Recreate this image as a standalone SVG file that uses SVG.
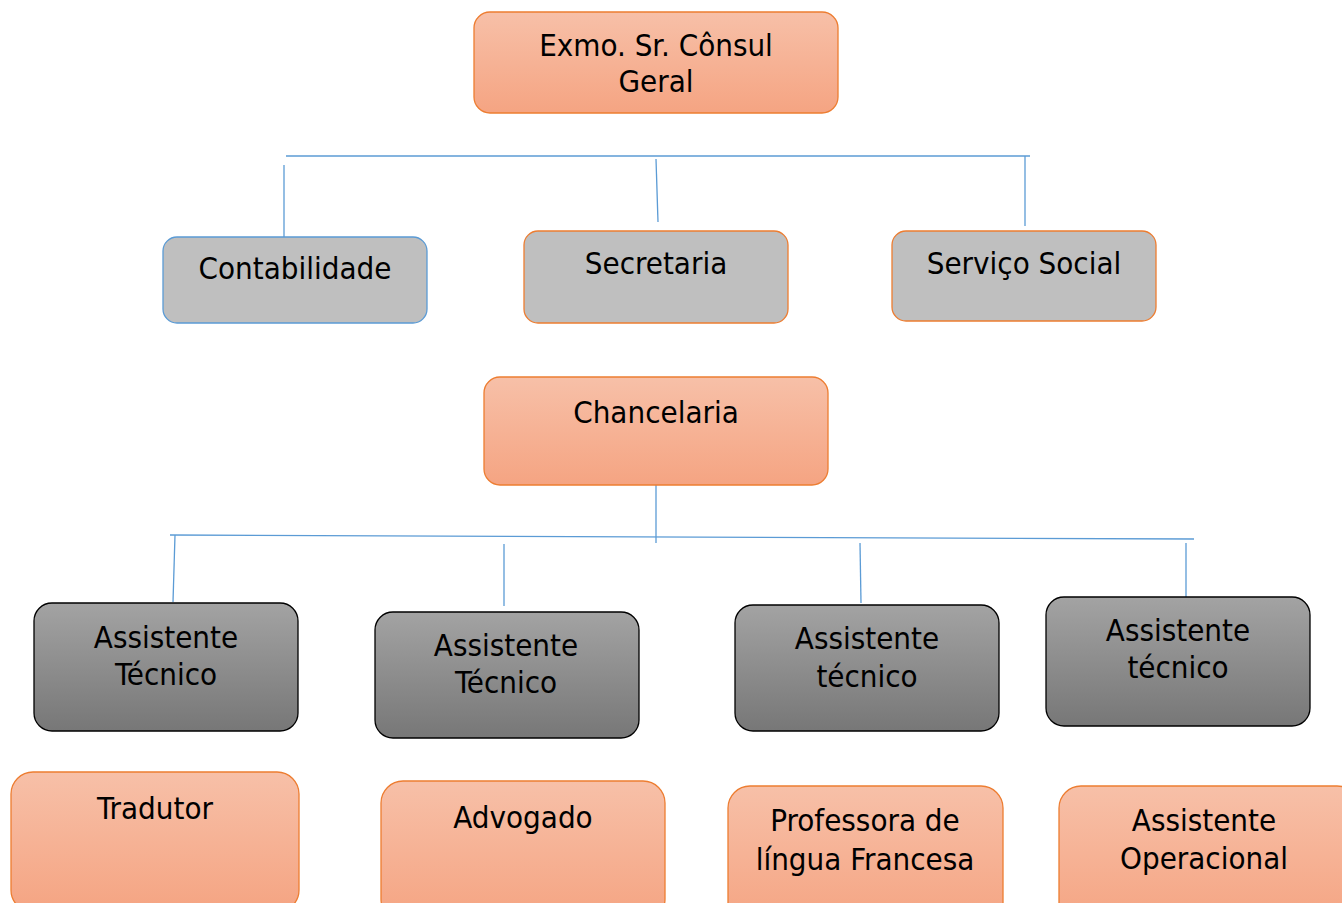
<svg xmlns="http://www.w3.org/2000/svg" width="1342" height="903" viewBox="0 0 1342 903">
<style>
text{font-family:"DejaVu Sans Condensed","DejaVu Sans",sans-serif;font-stretch:condensed;font-size:31px;fill:#000;text-anchor:middle}
.or{fill:url(#gOr);stroke:#ed7d31;stroke-width:1.3}
.gr{fill:#bfbfbf;stroke-width:1.3}
.dk{fill:url(#gDk);stroke:#000;stroke-width:1.3}
.ln{stroke:#5b9bd5;stroke-width:1.3;fill:none}
</style>
<defs>
<linearGradient id="gOr" x1="0" y1="0" x2="0" y2="1"><stop offset="0" stop-color="#f7c0a8"/><stop offset="1" stop-color="#f5a482"/></linearGradient>
<linearGradient id="gDk" x1="0" y1="0" x2="0" y2="1"><stop offset="0" stop-color="#a3a3a3"/><stop offset="1" stop-color="#777"/></linearGradient>
</defs>
<g id="connectors">
<line class="ln" x1="286" y1="156" x2="1030" y2="156"/>
<line class="ln" x1="284" y1="165" x2="284" y2="237"/>
<line class="ln" x1="656" y1="159" x2="658" y2="222"/>
<line class="ln" x1="1025" y1="156" x2="1025" y2="226"/>
<line class="ln" x1="656" y1="485" x2="656" y2="543"/>
<line class="ln" x1="170" y1="535" x2="1194" y2="539"/>
<line class="ln" x1="175" y1="535" x2="173" y2="602"/>
<line class="ln" x1="504" y1="544" x2="504" y2="606"/>
<line class="ln" x1="860" y1="543" x2="861" y2="603"/>
<line class="ln" x1="1186" y1="543" x2="1186" y2="602"/>
</g>
<g id="consul"><rect class="or" x="474" y="12" width="364" height="101" rx="16"/><text x="656" y="56">Exmo. Sr. Cônsul</text><text x="656" y="92">Geral</text></g>
<g id="contabilidade"><rect class="gr" stroke="#5b9bd5" x="163" y="237" width="264" height="86" rx="14"/><text x="295" y="279">Contabilidade</text></g>
<g id="secretaria"><rect class="gr" stroke="#ed7d31" x="524" y="231" width="264" height="92" rx="14"/><text x="656" y="274">Secretaria</text></g>
<g id="servico"><rect class="gr" stroke="#ed7d31" x="892" y="231" width="264" height="90" rx="14"/><text x="1024" y="274">Serviço Social</text></g>
<g id="chancelaria"><rect class="or" x="484" y="377" width="344" height="108" rx="16"/><text x="656" y="423">Chancelaria</text></g>
<g id="at1"><rect class="dk" x="34" y="603" width="264" height="128" rx="18"/><text x="166" y="648">Assistente</text><text x="166" y="685">Técnico</text></g>
<g id="at2"><rect class="dk" x="375" y="612" width="264" height="126" rx="18"/><text x="506" y="656">Assistente</text><text x="506" y="693">Técnico</text></g>
<g id="at3"><rect class="dk" x="735" y="605" width="264" height="126" rx="18"/><text x="867" y="649">Assistente</text><text x="867" y="687">técnico</text></g>
<g id="at4"><rect class="dk" x="1046" y="597" width="264" height="129" rx="18"/><text x="1178" y="641">Assistente</text><text x="1178" y="678">técnico</text></g>
<g id="tradutor"><rect class="or" x="11" y="772" width="288" height="140" rx="22"/><text x="155" y="819">Tradutor</text></g>
<g id="advogado"><rect class="or" x="381" y="781" width="284" height="140" rx="22"/><text x="523" y="828">Advogado</text></g>
<g id="professora"><rect class="or" x="728" y="786" width="275" height="140" rx="22"/><text x="865" y="831">Professora de</text><text x="865" y="870">língua Francesa</text></g>
<g id="operacional"><rect class="or" x="1059" y="786" width="300" height="140" rx="22"/><text x="1204" y="831">Assistente</text><text x="1204" y="869">Operacional</text></g>
</svg>
